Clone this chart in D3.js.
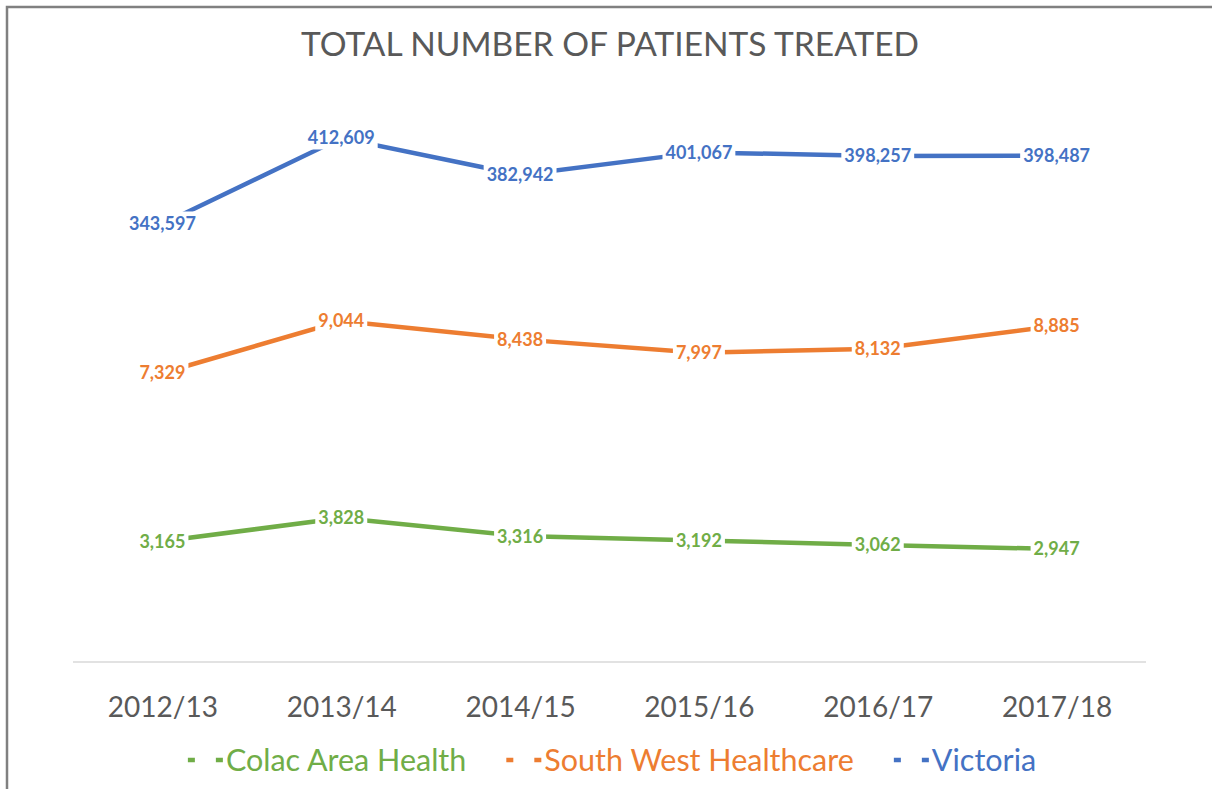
<!DOCTYPE html>
<html>
<head>
<meta charset="utf-8">
<script src="https://cdn.jsdelivr.net/npm/d3@7"></script>
<style>
  html, body { margin: 0; padding: 0; background: #fff; }
  svg { display: block; font-family: Lato, "Open Sans", sans-serif; }
</style>
</head>
<body>
<div id="chart"></div>
<script>
  const TITLE = 'TOTAL NUMBER OF PATIENTS TREATED';
  const years = ['2012/13', '2013/14', '2014/15', '2015/16', '2016/17', '2017/18'];
  const colacValues = [3165, 3828, 3316, 3192, 3062, 2947];
  const southWestValues = [7329, 9044, 8438, 7997, 8132, 8885];
  const victoriaValues = [343597, 412609, 382942, 401067, 398257, 398487];
  const seriesNames = ['Colac Area Health', 'South West Healthcare', 'Victoria'];

  const WIDTH = 1212;
  const HEIGHT = 789;
  const AXIS_Y = 662;
  const fmt = d3.format(',');

  // each series sits in its own vertical band
  const series = [
    {name: seriesNames[0], values: colacValues, color: '#70AD47', band: [549, 518]},
    {name: seriesNames[1], values: southWestValues, color: '#ED7D31', band: [373, 321]},
    {name: seriesNames[2], values: victoriaValues, color: '#4472C4', band: [224, 138]}
  ];

  const svg = d3.select('#chart')
    .append('svg')
    .attr('width', WIDTH)
    .attr('height', HEIGHT);

  // outer frame (only top and left edges show)
  svg.append('rect')
    .attr('x', 7)
    .attr('y', 7)
    .attr('width', WIDTH + 20)
    .attr('height', HEIGHT + 20)
    .attr('fill', 'none')
    .attr('stroke', '#808080')
    .attr('stroke-width', 2.5);

  svg.append('text')
    .attr('x', 610)
    .attr('y', 56)
    .attr('text-anchor', 'middle')
    .attr('fill', '#595959')
    .attr('font-size', 33.5)
    .attr('font-weight', 400)
    .text(TITLE);

  const x = d3.scalePoint()
    .domain(years)
    .range([73, 1146])
    .padding(0.5);

  // x axis
  const xAxisGroup = svg.append('g')
    .attr('transform', `translate(0,${AXIS_Y})`)
    .call(d3.axisBottom(x).tickSize(0).tickPadding(55));

  xAxisGroup.select('.domain')
    .attr('d', `M73,0H1146`)
    .attr('stroke', '#d9d9d9')
    .attr('stroke-width', 1.5);

  xAxisGroup.selectAll('text')
    .attr('dy', 0)
    .attr('fill', '#595959')
    .attr('font-size', 28)
    .attr('font-family', 'Lato, "Open Sans", sans-serif');

  const linesLayer = svg.append('g');
  const labelsLayer = svg.append('g');

  series.forEach((s) => {
    const y = d3.scaleLinear()
      .domain(d3.extent(s.values))
      .range(s.band);

    const data = years.map((year, i) => ({year, value: s.values[i]}));

    const lineFn = d3.line()
      .x((d) => x(d.year))
      .y((d) => y(d.value));

    linesLayer.append('path')
      .attr('d', lineFn(data))
      .attr('fill', 'none')
      .attr('stroke', s.color)
      .attr('stroke-width', 4.5)
      .attr('stroke-linecap', 'butt');

    const labels = labelsLayer.selectAll(null)
      .data(data)
      .enter()
      .append('g')
      .attr('transform', (d) => `translate(${x(d.year)},${y(d.value)})`);

    const texts = labels.append('text')
      .attr('text-anchor', 'middle')
      .attr('dy', '0.36em')
      .attr('fill', s.color)
      .attr('font-size', 18)
      .attr('font-weight', 700)
      .text((d) => fmt(d.value));

    // white box behind the label hides the line, like the original
    texts.each(function () {
      const box = this.getBBox();
      d3.select(this.parentNode).insert('rect', 'text')
        .attr('x', box.x - 3)
        .attr('y', box.y - 1)
        .attr('width', box.width + 6)
        .attr('height', box.height + 2)
        .attr('fill', '#fff');
    });
  });

  // legend
  const legend = svg.append('g');
  const items = legend.selectAll(null)
    .data(series)
    .enter()
    .append('g');

  items.append('line')
    .attr('x1', 0)
    .attr('x2', 35)
    .attr('y1', 0)
    .attr('y2', 0)
    .attr('stroke', (d) => d.color)
    .attr('stroke-width', 4.5)
    .attr('stroke-dasharray', '7,21');

  items.append('text')
    .attr('x', 38)
    .attr('dy', '0.36em')
    .attr('fill', (d) => d.color)
    .attr('font-size', 30.5)
    .text((d) => d.name);

  let offset = 0;
  items.each(function () {
    const w = this.getBBox().width;
    d3.select(this).attr('transform', `translate(${offset},0)`);
    offset += w + 40;
  });
  const legendWidth = offset - 40;
  legend.attr('transform', `translate(${612 - legendWidth / 2},760)`);
</script>
</body>
</html>
